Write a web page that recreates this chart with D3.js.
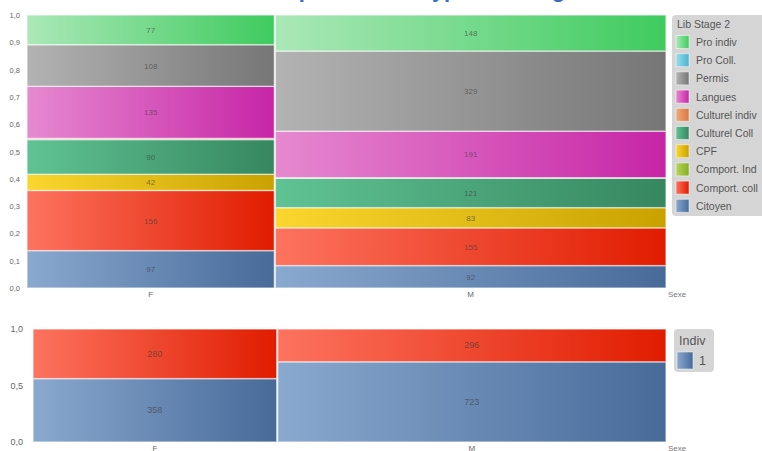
<!DOCTYPE html>
<html><head><meta charset="utf-8">
<script src="https://cdn.jsdelivr.net/npm/d3@7"></script>
<style>body{margin:0;background:#fff}svg{display:block;font-family:"Liberation Sans",Arial,sans-serif}</style>
</head><body><svg id="c" width="762" height="451"></svg>
<script>
// ---- data ----
const sexes = ["F", "M"];
const stages = ["Pro indiv","Pro Coll.","Permis","Langues","Culturel indiv","Culturel Coll","CPF","Comport. Ind","Comport. coll","Citoyen"];
// stacking order bottom -> top
const stackOrder = ["Citoyen","Comport. coll","CPF","Culturel Coll","Culturel indiv","Langues","Permis","Pro indiv"];
const valuesF = {"Citoyen":97,"Comport. coll":156,"CPF":42,"Culturel Coll":90,"Culturel indiv":3,"Langues":135,"Permis":108,"Pro indiv":77};
const valuesM = {"Citoyen":92,"Comport. coll":155,"CPF":83,"Culturel Coll":121,"Culturel indiv":2,"Langues":191,"Permis":329,"Pro indiv":148};
const indivLevels = ["1","0"];
const indivF = {"1":358,"0":280};
const indivM = {"1":723,"0":296};
const yTicksTop = [0,0.1,0.2,0.3,0.4,0.5,0.6,0.7,0.8,0.9,1.0];
const yTicksBottom = [0,0.5,1.0];

// ---- colours (left light -> right dark) ----
const colors = {
  "Pro indiv":["#abe8b8","#3fcb5f"],
  "Pro Coll.":["#9bdcec","#49b4d0"],
  "Permis":["#b3b3b3","#767676"],
  "Langues":["#e689d0","#c625a6"],
  "Culturel indiv":["#eeaa80","#d9793e"],
  "Culturel Coll":["#60c394","#36875f"],
  "CPF":["#fad62e","#c9a200"],
  "Comport. Ind":["#b6d45a","#86ad22"],
  "Comport. coll":["#fd735f","#e01c00"],
  "Citoyen":["#8aa9cf","#476a99"]
};
const indivColors = {"1":colors["Citoyen"], "0":colors["Comport. coll"]};

const svg = d3.select("#c");
const defs = svg.append("defs");
function grad(id, c){
  const g = defs.append("linearGradient").attr("id",id).attr("x1",0).attr("x2",1).attr("y1",0).attr("y2",0);
  g.append("stop").attr("offset","0%").attr("stop-color",c[0]);
  g.append("stop").attr("offset","100%").attr("stop-color",c[1]);
}
const gid = s => "g_" + s.replace(/[^A-Za-z]/g,"");
stages.forEach(s => grad(gid(s), colors[s]));

const fmt = v => d3.format(".1f")(v).replace(".", ",");

// title (clipped at top, like the reference)
svg.append("text").attr("x",262).attr("y",-3).attr("font-size",22).attr("font-weight","bold")
  .attr("fill","#3b6fc2").text("Proportion des types de stage");

function mosaic(opts){
  const {x0,x1,yTop,yBot,data,order,colorId,ticks,tickFs,labelFs,tickX} = opts;
  const g = svg.append("g");
  const totals = data.map(d => d3.sum(order, k => d[k] || 0));
  const all = d3.sum(totals);
  const xs = d3.scaleLinear().domain([0, all]).range([x0, x1]);
  const ys = d3.scaleLinear().domain([0,1]).range([yBot, yTop]);
  let cum = 0;
  data.forEach((d,i) => {
    const xa = xs(cum) + (i>0?1:0), xb = xs(cum + totals[i]);
    cum += totals[i];
    let acc = 0;
    order.forEach(k => {
      const v = d[k] || 0;
      if (!v) return;
      const p0 = acc/totals[i], p1 = (acc+v)/totals[i];
      acc += v;
      const ya = ys(p1), yb = ys(p0);
      g.append("rect").attr("x",xa).attr("y",ya).attr("width",xb-xa).attr("height",yb-ya)
        .attr("fill","url(#"+colorId(k)+")")
        .attr("stroke","rgba(255,255,255,0.55)").attr("stroke-width",1.4);
      if (yb-ya > 8) {
        g.append("text").attr("x",(xa+xb)/2).attr("y",(ya+yb)/2+3).attr("text-anchor","middle")
          .attr("font-size",labelFs).attr("fill","rgba(60,60,60,0.65)").text(v);
      }
    });
    g.append("text").attr("x",(xa+xb)/2).attr("y",yBot+9).attr("text-anchor","middle")
      .attr("font-size",8).attr("fill","#666").text(sexes[i]);
  });
  ticks.forEach(t => {
    g.append("text").attr("x",tickX).attr("y",ys(t)+3).attr("text-anchor","end")
      .attr("font-size",tickFs).attr("fill","#666").text(fmt(t));
  });
  g.append("text").attr("x",x1+2).attr("y",yBot+9).attr("font-size",8).attr("fill","#777").text("Sexe");
}

mosaic({x0:27,x1:666,yTop:15,yBot:288,data:[valuesF,valuesM],order:stackOrder,
  colorId:gid,ticks:yTicksTop,tickFs:7.5,labelFs:8,tickX:20});

indivLevels.forEach(l => grad("gi_"+l, indivColors[l]));
mosaic({x0:33,x1:666,yTop:329,yBot:442,data:[indivF,indivM],order:indivLevels,
  colorId:l=>"gi_"+l,ticks:yTicksBottom,tickFs:9,labelFs:9,tickX:23});

// top legend
const lg = svg.append("g");
lg.append("rect").attr("x",672).attr("y",15).attr("width",100).attr("height",201).attr("rx",4).attr("fill","#d5d5d5");
lg.append("text").attr("x",677).attr("y",28).attr("font-size",10.5).attr("fill","#555").text("Lib Stage 2");
stages.forEach((s,i) => {
  const cy = 42 + i*18.2;
  lg.append("rect").attr("x",676).attr("y",cy-6.5).attr("width",13).attr("height",13)
    .attr("fill","url(#"+gid(s)+")").attr("stroke","rgba(255,255,255,0.5)");
  lg.append("text").attr("x",696).attr("y",cy+4).attr("font-size",10.5).attr("fill","#555").text(s);
});

// bottom legend
const lb = svg.append("g");
lb.append("rect").attr("x",674).attr("y",329).attr("width",40).attr("height",43).attr("rx",4).attr("fill","#d5d5d5");
lb.append("text").attr("x",679).attr("y",345).attr("font-size",12.5).attr("fill","#555").text("Indiv");
lb.append("rect").attr("x",677).attr("y",352).attr("width",16).attr("height",17)
  .attr("fill","url(#gi_1)").attr("stroke","rgba(255,255,255,0.5)");
lb.append("text").attr("x",699).attr("y",365).attr("font-size",12.5).attr("fill","#555").text(indivLevels[0]);
</script></body></html>
